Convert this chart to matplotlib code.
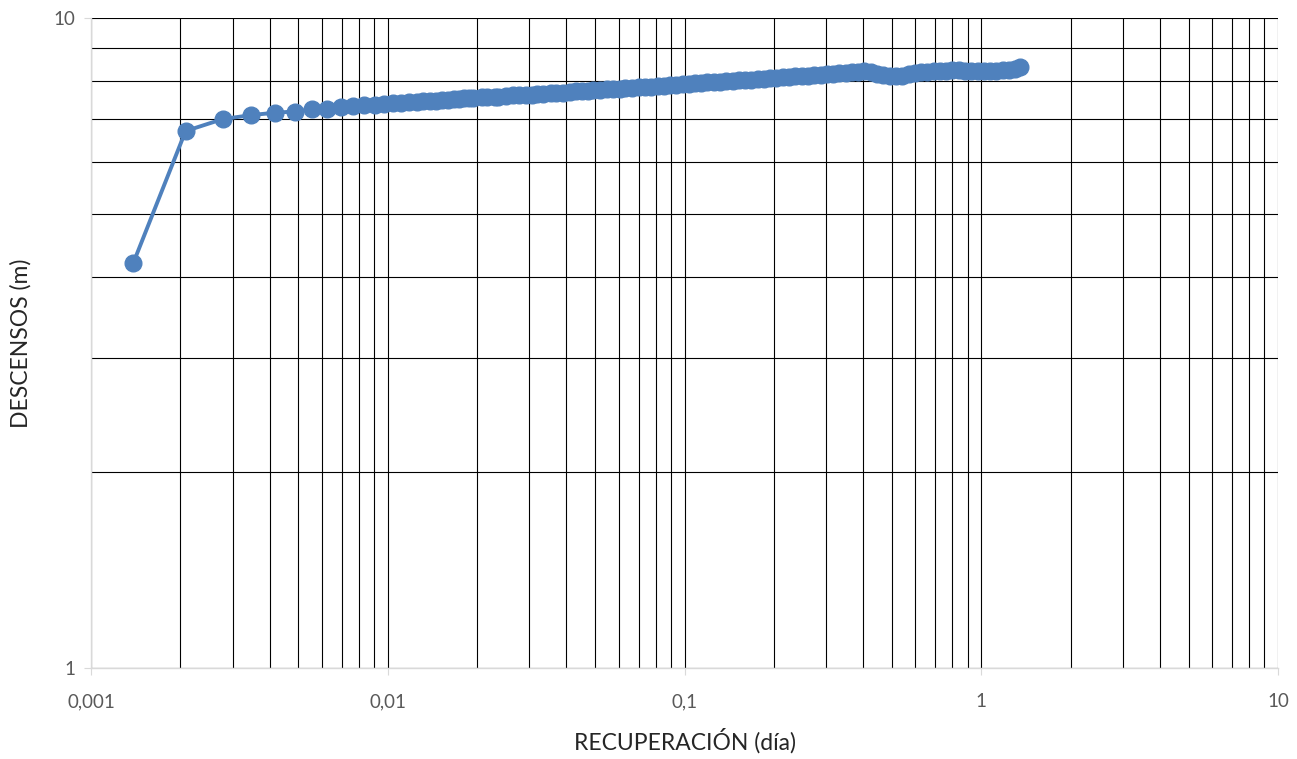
import matplotlib
matplotlib.use("Agg")
import matplotlib.pyplot as plt
from matplotlib.ticker import FixedLocator, FixedFormatter, NullFormatter

# recovery time in minutes (converted to days below) and drawdown (m)
minutos = [2, 3, 4, 5, 6, 7, 8, 9, 10, 11, 12, 13, 14, 15, 16, 17, 18, 19,
           20, 21, 22, 23, 24, 25, 26, 27, 28, 30, 31, 33, 34, 36, 38, 40, 42, 44,
           46, 48, 51, 53, 56, 59, 62, 65, 68, 71, 75, 79, 83, 87, 91, 96, 101, 106,
           111, 117, 123, 129, 135, 142, 149, 156, 164, 172, 181, 190, 199, 209, 219,
           230, 242, 254, 267, 280, 294, 309, 324, 340, 357, 375, 394, 414, 434, 456,
           479, 503, 528, 554, 582, 611, 642, 674, 708, 743, 780, 819, 860, 903, 948,
           995, 1045, 1097, 1152, 1210, 1270, 1334, 1400, 1470, 1544, 1620, 1700,
           1785, 1875, 1944]
descensos = [4.20, 6.70, 6.99, 7.09, 7.15, 7.18, 7.24, 7.25, 7.29, 7.32, 7.34, 7.35,
             7.37, 7.39, 7.41, 7.42, 7.43, 7.44,
             7.455, 7.46, 7.48, 7.49, 7.50, 7.51, 7.52, 7.53, 7.53, 7.55, 7.55, 7.57,
             7.57, 7.59, 7.60, 7.61, 7.62, 7.62, 7.64, 7.65, 7.66, 7.67, 7.68, 7.70,
             7.71, 7.72, 7.73, 7.74, 7.76, 7.77, 7.78, 7.79, 7.80, 7.81, 7.82, 7.83,
             7.84, 7.85, 7.87, 7.88, 7.90, 7.91, 7.92, 7.93, 7.95, 7.96, 7.97, 7.98,
             8.00, 8.01, 8.02, 8.03, 8.04, 8.05, 8.07, 8.08, 8.09, 8.10, 8.12, 8.13,
             8.14, 8.15, 8.16, 8.18, 8.19, 8.21, 8.22, 8.24, 8.25, 8.27, 8.28, 8.26,
             8.20, 8.16, 8.13, 8.13, 8.15, 8.19, 8.22, 8.25, 8.27, 8.28, 8.29, 8.30,
             8.31, 8.31, 8.30, 8.30, 8.29, 8.29, 8.29, 8.30, 8.31, 8.33, 8.36, 8.40]
dias = [m / 1440 for m in minutos]

x_major = [0.001, 0.01, 0.1, 1, 10]
x_labels = ["0,001", "0,01", "0,1", "1", "10"]
y_major = [1, 10]
y_labels = ["1", "10"]

BLUE = "#4F81BD"
GREY_TXT = "#595959"
AXIS = "#D9D9D9"

plt.rcParams["font.family"] = ["Lato", "DejaVu Sans"]

fig = plt.figure(figsize=(12.97, 7.59), dpi=100)
ax = fig.add_axes([91 / 1297, 1 - 668 / 759, (1278 - 91) / 1297, (668 - 18) / 759])

ax.plot(dias, descensos, color=BLUE, lw=2.8, marker="o", ms=12, mec=BLUE, mfc=BLUE,
        zorder=3)

ax.set_xscale("log"); ax.set_yscale("log")
ax.set_xlim(0.001, 10); ax.set_ylim(1, 10)

ax.xaxis.set_major_locator(FixedLocator(x_major))
ax.xaxis.set_major_formatter(FixedFormatter(x_labels))
ax.xaxis.set_minor_locator(FixedLocator([k * 10.0 ** e for e in range(-3, 1) for k in range(2, 10)]))
ax.xaxis.set_minor_formatter(NullFormatter())
ax.yaxis.set_major_locator(FixedLocator(y_major))
ax.yaxis.set_major_formatter(FixedFormatter(y_labels))
ax.yaxis.set_minor_locator(FixedLocator(list(range(2, 10))))
ax.yaxis.set_minor_formatter(NullFormatter())

ax.grid(True, which="both", color="black", lw=0.8)
ax.set_axisbelow(True)
for s in ("top", "right"):
    ax.spines[s].set_visible(False)
for s in ("left", "bottom"):
    ax.spines[s].set_color(AXIS); ax.spines[s].set_linewidth(1.0)
    ax.spines[s].set_zorder(2.5)

ax.tick_params(which="major", length=5, color=AXIS, labelcolor=GREY_TXT, labelsize=13.5, pad=13)
ax.tick_params(which="minor", length=0)
ax.tick_params(axis="y", pad=6)

ax.set_xlabel("RECUPERACIÓN (día)", fontsize=16.5, color="#262626", labelpad=13)
ax.set_ylabel("DESCENSOS (m)", fontsize=16.5, color="#262626", labelpad=16)

fig.savefig("out.png", dpi=100)
